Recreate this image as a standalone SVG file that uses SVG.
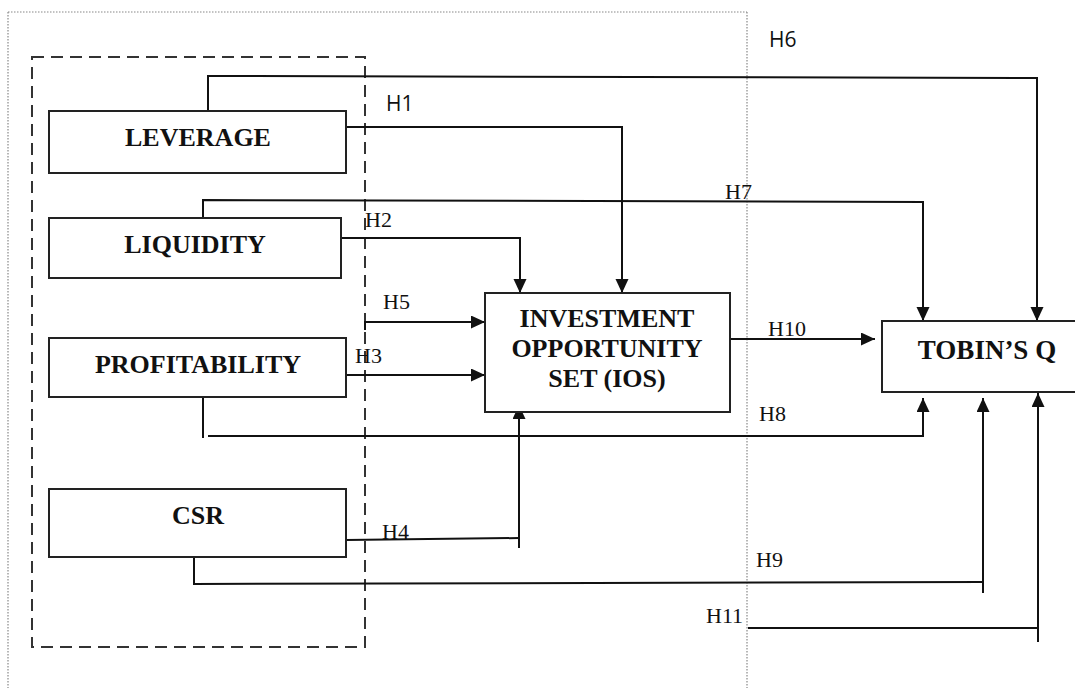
<svg xmlns="http://www.w3.org/2000/svg" width="1075" height="688" viewBox="0 0 1075 688">
<style>
.box{fill:#fff;stroke:#222;stroke-width:2}
.nt{font-family:"Liberation Serif",serif;font-weight:bold;font-size:26px;fill:#111;text-anchor:middle}
.ln{fill:none;stroke:#111;stroke-width:2}
.ls{font-family:"Liberation Serif",serif;font-size:22px;fill:#111}
.lsa{font-family:"Open Sans","Liberation Sans",sans-serif;font-size:21px;fill:#111}
</style>
<defs>
<marker id="ah" markerUnits="userSpaceOnUse" markerWidth="15" markerHeight="14" refX="14" refY="6.5" orient="auto">
<path d="M0,0 L14,6.5 L0,13 Z" fill="#111"/>
</marker>
</defs>
<rect width="1075" height="688" fill="#fff"/>
<g id="frame">
<path d="M8,12 H747 M8,12 V688 M747,12 V688" fill="none" stroke="#888" stroke-width="1.2" stroke-dasharray="1.5,1.5"/>
<rect x="32" y="57" width="333" height="590" fill="none" stroke="#333" stroke-width="2" stroke-dasharray="12,7"/>
</g>
<g id="connectors">
<path class="ln" d="M208,111 V76 L1037,78 V321" marker-end="url(#ah)"/>
<path class="ln" d="M342,127 H622 V293" marker-end="url(#ah)"/>
<path class="ln" d="M203,218 V200 L923,202 V321" marker-end="url(#ah)"/>
<path class="ln" d="M342,238 H520 V293" marker-end="url(#ah)"/>
<path class="ln" d="M365,330 V322 H485" marker-end="url(#ah)"/>
<path class="ln" d="M346,375 H485" marker-end="url(#ah)"/>
<path class="ln" d="M730,339 H875" marker-end="url(#ah)"/>
<path class="ln" d="M203,397 V438"/>
<path class="ln" d="M208,436 H923 V398" marker-end="url(#ah)"/>
<path class="ln" d="M346,540 L519,538"/>
<path class="ln" d="M519,548 V405" marker-end="url(#ah)"/>
<path class="ln" d="M194,554 V584 L983,582"/>
<path class="ln" d="M983,593 V398" marker-end="url(#ah)"/>
<path class="ln" d="M748,628 H1038"/>
<path class="ln" d="M1038,642 V393" marker-end="url(#ah)"/>
</g>
<g id="labels">
<text class="lsa" x="769" y="47">H6</text>
<text class="lsa" x="386" y="111">H1</text>
<text class="ls" x="725" y="199">H7</text>
<text class="ls" x="365" y="227">H2</text>
<text class="ls" x="383" y="309">H5</text>
<text class="ls" x="355" y="363">H3</text>
<text class="ls" x="768" y="336">H10</text>
<text class="ls" x="759" y="421">H8</text>
<text class="ls" x="382" y="539">H4</text>
<text class="ls" x="756" y="567">H9</text>
<text class="ls" x="706" y="623">H11</text>
</g>
<g id="leverage">
<rect class="box" x="49" y="111" width="297" height="62"/>
<text class="nt" x="198" y="146">LEVERAGE</text>
</g>
<g id="liquidity">
<rect class="box" x="49" y="218" width="292" height="60"/>
<text class="nt" x="195" y="253">LIQUIDITY</text>
</g>
<g id="profitability">
<rect class="box" x="49" y="338" width="297" height="59"/>
<text class="nt" x="198" y="373">PROFITABILITY</text>
</g>
<g id="csr">
<rect class="box" x="49" y="489" width="297" height="68"/>
<text class="nt" x="198" y="524">CSR</text>
</g>
<g id="ios">
<rect class="box" x="485" y="293" width="245" height="119"/>
<text class="nt" x="607" y="327">INVESTMENT</text>
<text class="nt" x="607" y="357">OPPORTUNITY</text>
<text class="nt" x="607" y="387">SET (IOS)</text>
</g>
<g id="tobins-q">
<rect class="box" x="882" y="321" width="200" height="71"/>
<text class="nt" x="987" y="359" style="font-size:27px">TOBIN’S Q</text>
</g>
</svg>
